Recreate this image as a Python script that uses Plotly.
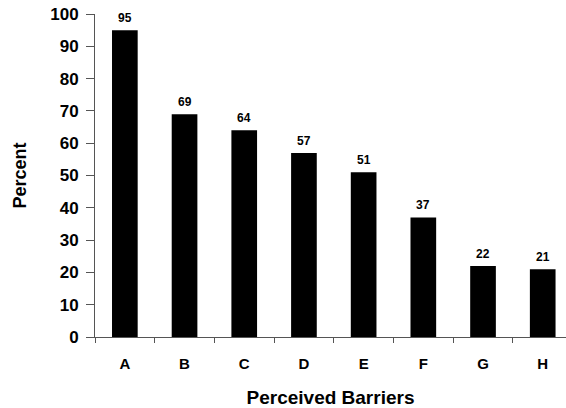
import plotly.graph_objects as go

categories = ["A", "B", "C", "D", "E", "F", "G", "H"]
percent_values = [95, 69, 64, 57, 51, 37, 22, 21]
y_tick_values = [0, 10, 20, 30, 40, 50, 60, 70, 80, 90, 100]

FONT = "Liberation Sans, Arial, Helvetica, sans-serif"
AXIS_COLOR = "#555555"

fig = go.Figure()
fig.add_trace(go.Bar(
    x=categories,
    y=percent_values,
    width=0.43,
    marker=dict(color="black", line=dict(width=0)),
    hoverinfo="x+y",
))

for c, v in zip(categories, percent_values):
    fig.add_annotation(
        x=c, y=v, text=str(v), showarrow=False,
        yanchor="bottom", yshift=3,
        font=dict(family=FONT, size=12, color="black", weight="bold"),
    )

fig.update_layout(
    width=566, height=408,
    margin=dict(l=95, r=0, t=14, b=71, autoexpand=False),
    paper_bgcolor="white", plot_bgcolor="white",
    showlegend=False,
    font=dict(family=FONT, color="black"),
    xaxis=dict(
        type="category",
        automargin=False,
        range=[-0.5, 7.39],
        tickson="boundaries",
        ticks="outside", ticklen=5, tickwidth=1, tickcolor=AXIS_COLOR,
        showline=True, linecolor=AXIS_COLOR, linewidth=1,
        showgrid=False, zeroline=False,
        tickfont=dict(family=FONT, size=15, color="black", weight="bold"),
        ticklabelstandoff=13,
        title=dict(text="Perceived Barriers", standoff=19,
                   font=dict(family=FONT, size=19, color="black", weight="bold")),
    ),
    yaxis=dict(
        automargin=False,
        range=[0, 100],
        tickvals=y_tick_values,
        ticklabeloverflow="allow",
        ticks="outside", ticklen=8, tickwidth=1, tickcolor=AXIS_COLOR,
        showline=True, linecolor=AXIS_COLOR, linewidth=1,
        showgrid=False, zeroline=False,
        tickfont=dict(family=FONT, size=17, color="black", weight="bold"),
        ticklabelstandoff=4,
        title=dict(text="Percent", standoff=18,
                   font=dict(family=FONT, size=18, color="black", weight="bold")),
    ),
)

# remove the page's default 8px body margin so the figure fills the window
fig.write_html(
    "out.html",
    config={"displayModeBar": False},
    post_script="document.body.style.margin='0';document.body.style.overflow='hidden';",
)
